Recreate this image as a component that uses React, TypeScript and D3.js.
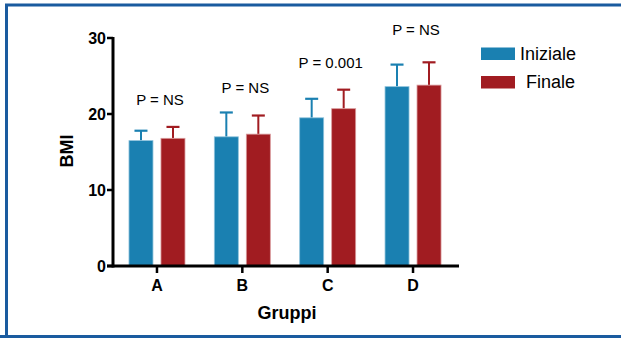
import * as d3 from 'd3';
import React from 'react';

// values
const groups = ['A', 'B', 'C', 'D'];
const series = ['Iniziale', 'Finale'];
const iniziale = [16.5, 17.0, 19.5, 23.6];
const finale = [16.8, 17.35, 20.7, 23.8];
const inizialeErr = [1.3, 3.2, 2.5, 2.9];
const finaleErr = [1.5, 2.45, 2.5, 3.0];
const pLabels = ['P = NS', 'P = NS', 'P = 0.001', 'P = NS'];
const pLevels = [21.2, 22.7, 26.0, 30.4];
const yTicks = [0, 10, 20, 30];

const colors = { Iniziale: '#1a80b1', Finale: '#a11c21' };
const edge = { Iniziale: '#8fc3dc', Finale: '#d99a9c' };
const font = '"Liberation Sans", Arial, sans-serif';

export default function App() {
  const width = 621;
  const height = 338;

  const y = d3.scaleLinear().domain([0, 30]).range([266, 38]);
  const x = d3.scaleBand().domain(groups).range([114.3, 455.7]).padding(0);
  const x1 = d3.scaleBand().domain(series).range([-28, 28]).paddingInner(0.25);

  const values = { Iniziale: iniziale, Finale: finale };
  const errs = { Iniziale: inizialeErr, Finale: finaleErr };

  const center = (g) => x(g) + x.bandwidth() / 2;

  return (
    <svg width={width} height={height} style={{ position: 'absolute', left: 0, top: 0 }}>
      <rect x={0} y={0} width={width} height={height} fill="white" />
      {/* frame */}
      <path d="M6.5,338 V5 H621" fill="none" stroke="#1a5b9f" strokeWidth={3} />
      <line x1={0} x2={621} y1={336.5} y2={336.5} stroke="#1a5b9f" strokeWidth={3} />

      {/* bars */}
      {series.map((s) =>
        groups.map((g, i) => {
          const v = values[s][i];
          const e = errs[s][i];
          const bx = center(g) + x1(s);
          const bw = x1.bandwidth();
          const mid = bx + bw / 2;
          return (
            <g key={s + g}>
              <line x1={mid} x2={mid} y1={y(v)} y2={y(v + e)} stroke={colors[s]} strokeWidth={2} />
              <line x1={mid - 6.5} x2={mid + 6.5} y1={y(v + e)} y2={y(v + e)} stroke={colors[s]} strokeWidth={2.2} />
              <rect x={bx} y={y(v)} width={bw} height={y(0) - y(v)} fill={colors[s]} stroke={edge[s]} strokeWidth={0.8} />
            </g>
          );
        })
      )}

      {/* y axis */}
      <line x1={113} x2={113} y1={y(30) - 1} y2={y(0) + 1.5} stroke="black" strokeWidth={3} />
      {yTicks.map((t) => (
        <g key={t}>
          <line x1={107} x2={113} y1={y(t)} y2={y(t)} stroke="black" strokeWidth={2.5} />
          <text x={106} y={y(t) + 5.5} textAnchor="end" fontFamily={font} fontWeight="bold" fontSize={16}>
            {t}
          </text>
        </g>
      ))}

      {/* x axis */}
      <line x1={107} x2={459} y1={y(0)} y2={y(0)} stroke="black" strokeWidth={3} />
      {groups.map((g) => (
        <g key={g}>
          <line x1={center(g)} x2={center(g)} y1={y(0)} y2={y(0) + 7} stroke="black" strokeWidth={2.5} />
          <text x={center(g)} y={290.5} textAnchor="middle" fontFamily={font} fontWeight="bold" fontSize={16}>
            {g}
          </text>
        </g>
      ))}

      {/* p-value labels */}
      {groups.map((g, i) => (
        <text key={'p' + g} x={center(g) + 3} y={y(pLevels[i])} textAnchor="middle" fontFamily={font} fontSize={15}>
          {pLabels[i]}
        </text>
      ))}

      {/* axis titles */}
      <text x={287} y={319} textAnchor="middle" fontFamily={font} fontWeight="bold" fontSize={18}>
        Gruppi
      </text>
      <text transform="translate(73,151) rotate(-90)" textAnchor="middle" fontFamily={font} fontWeight="bold" fontSize={18}>
        BMI
      </text>

      {/* legend */}
      <rect x={481} y={47.5} width={34} height={12.5} fill={colors.Iniziale} />
      <text x={520} y={59.5} fontFamily={font} fontSize={18}>Iniziale</text>
      <rect x={481} y={76} width={34} height={12.5} fill={colors.Finale} />
      <text x={526} y={88} fontFamily={font} fontSize={18}>Finale</text>
    </svg>
  );
}
